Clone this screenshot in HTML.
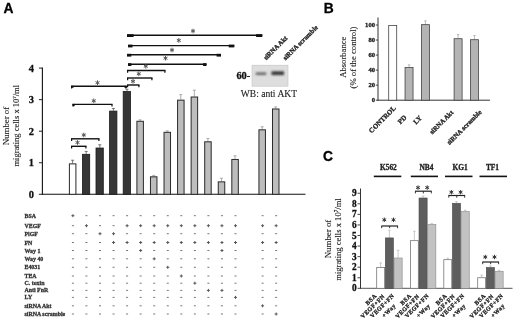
<!DOCTYPE html>
<html><head><meta charset="utf-8"><title>Figure</title>
<style>
html,body{margin:0;padding:0;background:#fff;}
body{width:520px;height:320px;overflow:hidden;font-family:"Liberation Serif",serif;}
svg{display:block;filter:blur(0.45px);}
</style></head><body>
<svg width="520" height="320" viewBox="0 0 520 320">
<rect x="0" y="0" width="520" height="320" fill="#ffffff"/>
<text x="3.6" y="12.7" font-family='"Liberation Sans", sans-serif' font-size="13.8" font-weight="bold" text-anchor="start" fill="#000" stroke="#000" stroke-width="0.3">A</text>
<text x="323.7" y="12.7" font-family='"Liberation Sans", sans-serif' font-size="13.8" font-weight="bold" text-anchor="start" fill="#000" stroke="#000" stroke-width="0.3">B</text>
<text x="323.0" y="160.6" font-family='"Liberation Sans", sans-serif' font-size="13.8" font-weight="bold" text-anchor="start" fill="#000" stroke="#000" stroke-width="0.3">C</text>
<line x1="42.40" y1="67.60" x2="42.40" y2="194.80" stroke="#111" stroke-width="1.1"/>
<line x1="41.90" y1="194.30" x2="305.50" y2="194.30" stroke="#111" stroke-width="1.1"/>
<line x1="38.90" y1="194.30" x2="42.40" y2="194.30" stroke="#222" stroke-width="1"/>
<text x="34.0" y="197.70000000000002" font-family='"Liberation Serif", serif' font-size="10.4" font-weight="bold" text-anchor="end" fill="#111" stroke="#111" stroke-width="0.3">0</text>
<line x1="38.90" y1="162.75" x2="42.40" y2="162.75" stroke="#222" stroke-width="1"/>
<text x="34.0" y="166.15" font-family='"Liberation Serif", serif' font-size="10.4" font-weight="bold" text-anchor="end" fill="#111" stroke="#111" stroke-width="0.3">1</text>
<line x1="38.90" y1="131.20" x2="42.40" y2="131.20" stroke="#222" stroke-width="1"/>
<text x="34.0" y="134.60000000000002" font-family='"Liberation Serif", serif' font-size="10.4" font-weight="bold" text-anchor="end" fill="#111" stroke="#111" stroke-width="0.3">2</text>
<line x1="38.90" y1="99.65" x2="42.40" y2="99.65" stroke="#222" stroke-width="1"/>
<text x="34.0" y="103.05000000000001" font-family='"Liberation Serif", serif' font-size="10.4" font-weight="bold" text-anchor="end" fill="#111" stroke="#111" stroke-width="0.3">3</text>
<line x1="38.90" y1="68.10" x2="42.40" y2="68.10" stroke="#222" stroke-width="1"/>
<text x="34.0" y="71.50000000000001" font-family='"Liberation Serif", serif' font-size="10.4" font-weight="bold" text-anchor="end" fill="#111" stroke="#111" stroke-width="0.3">4</text>
<text x="9.0" y="126" font-family='"Liberation Serif", serif' font-size="8.8" font-weight="normal" text-anchor="middle" fill="#222" stroke="#222" stroke-width="0.12" transform="rotate(-90 9.0 126)">Number of</text>
<text x="19.0" y="125.7" font-family='"Liberation Serif", serif' font-size="8.5" font-weight="normal" text-anchor="middle" fill="#222" stroke="#222" stroke-width="0.12" transform="rotate(-90 19.0 125.7)">migrating cells x 10<tspan font-size="5" dy="-3">7</tspan><tspan dy="3">/ml</tspan></text>
<line x1="72.60" y1="163.38" x2="72.60" y2="160.23" stroke="#555" stroke-width="0.8"/>
<line x1="71.10" y1="160.23" x2="74.10" y2="160.23" stroke="#555" stroke-width="0.8"/>
<rect x="69.40" y="163.88" width="6.50" height="30.42" fill="#fff" stroke="#2a2a2a" stroke-width="1"/>
<line x1="86.20" y1="153.92" x2="86.20" y2="151.39" stroke="#555" stroke-width="0.8"/>
<line x1="84.70" y1="151.39" x2="87.70" y2="151.39" stroke="#555" stroke-width="0.8"/>
<rect x="82.40" y="154.32" width="7.30" height="39.98" fill="#363636" stroke="#1a1a1a" stroke-width="0.8"/>
<line x1="99.80" y1="147.61" x2="99.80" y2="144.77" stroke="#555" stroke-width="0.8"/>
<line x1="98.30" y1="144.77" x2="101.30" y2="144.77" stroke="#555" stroke-width="0.8"/>
<rect x="96.00" y="148.01" width="7.30" height="46.29" fill="#363636" stroke="#1a1a1a" stroke-width="0.8"/>
<line x1="113.40" y1="110.69" x2="113.40" y2="108.48" stroke="#555" stroke-width="0.8"/>
<line x1="111.90" y1="108.48" x2="114.90" y2="108.48" stroke="#555" stroke-width="0.8"/>
<rect x="109.60" y="111.09" width="7.30" height="83.21" fill="#363636" stroke="#1a1a1a" stroke-width="0.8"/>
<line x1="127.00" y1="91.13" x2="127.00" y2="89.24" stroke="#555" stroke-width="0.8"/>
<line x1="125.50" y1="89.24" x2="128.50" y2="89.24" stroke="#555" stroke-width="0.8"/>
<rect x="123.20" y="91.53" width="7.30" height="102.77" fill="#363636" stroke="#1a1a1a" stroke-width="0.8"/>
<line x1="140.10" y1="120.79" x2="140.10" y2="119.84" stroke="#999" stroke-width="0.8"/>
<line x1="138.60" y1="119.84" x2="141.60" y2="119.84" stroke="#999" stroke-width="0.8"/>
<rect x="136.90" y="121.29" width="6.50" height="73.01" fill="#bdbdbd" stroke="#2a2a2a" stroke-width="1"/>
<line x1="153.66" y1="176.32" x2="153.66" y2="175.37" stroke="#999" stroke-width="0.8"/>
<line x1="152.16" y1="175.37" x2="155.16" y2="175.37" stroke="#999" stroke-width="0.8"/>
<rect x="150.46" y="176.82" width="6.50" height="17.48" fill="#bdbdbd" stroke="#2a2a2a" stroke-width="1"/>
<line x1="167.22" y1="131.83" x2="167.22" y2="130.88" stroke="#999" stroke-width="0.8"/>
<line x1="165.72" y1="130.88" x2="168.72" y2="130.88" stroke="#999" stroke-width="0.8"/>
<rect x="164.02" y="132.33" width="6.50" height="61.97" fill="#bdbdbd" stroke="#2a2a2a" stroke-width="1"/>
<line x1="180.78" y1="99.65" x2="180.78" y2="94.60" stroke="#999" stroke-width="0.8"/>
<line x1="179.28" y1="94.60" x2="182.28" y2="94.60" stroke="#999" stroke-width="0.8"/>
<rect x="177.58" y="100.15" width="6.50" height="94.15" fill="#bdbdbd" stroke="#2a2a2a" stroke-width="1"/>
<line x1="194.34" y1="96.50" x2="194.34" y2="90.19" stroke="#999" stroke-width="0.8"/>
<line x1="192.84" y1="90.19" x2="195.84" y2="90.19" stroke="#999" stroke-width="0.8"/>
<rect x="191.14" y="97.00" width="6.50" height="97.31" fill="#bdbdbd" stroke="#2a2a2a" stroke-width="1"/>
<line x1="207.90" y1="141.30" x2="207.90" y2="138.46" stroke="#999" stroke-width="0.8"/>
<line x1="206.40" y1="138.46" x2="209.40" y2="138.46" stroke="#999" stroke-width="0.8"/>
<rect x="204.70" y="141.80" width="6.50" height="52.50" fill="#bdbdbd" stroke="#2a2a2a" stroke-width="1"/>
<line x1="221.46" y1="181.36" x2="221.46" y2="178.21" stroke="#999" stroke-width="0.8"/>
<line x1="219.96" y1="178.21" x2="222.96" y2="178.21" stroke="#999" stroke-width="0.8"/>
<rect x="218.26" y="181.86" width="6.50" height="12.44" fill="#bdbdbd" stroke="#2a2a2a" stroke-width="1"/>
<line x1="235.02" y1="158.96" x2="235.02" y2="155.81" stroke="#999" stroke-width="0.8"/>
<line x1="233.52" y1="155.81" x2="236.52" y2="155.81" stroke="#999" stroke-width="0.8"/>
<rect x="231.82" y="159.46" width="6.50" height="34.84" fill="#bdbdbd" stroke="#2a2a2a" stroke-width="1"/>
<line x1="262.14" y1="129.31" x2="262.14" y2="126.78" stroke="#999" stroke-width="0.8"/>
<line x1="260.64" y1="126.78" x2="263.64" y2="126.78" stroke="#999" stroke-width="0.8"/>
<rect x="258.94" y="129.81" width="6.50" height="64.49" fill="#bdbdbd" stroke="#2a2a2a" stroke-width="1"/>
<line x1="275.70" y1="108.48" x2="275.70" y2="106.91" stroke="#999" stroke-width="0.8"/>
<line x1="274.20" y1="106.91" x2="277.20" y2="106.91" stroke="#999" stroke-width="0.8"/>
<rect x="272.50" y="108.98" width="6.50" height="85.32" fill="#bdbdbd" stroke="#2a2a2a" stroke-width="1"/>
<line x1="71.00" y1="86.30" x2="126.50" y2="86.30" stroke="#111" stroke-width="1.4"/>
<line x1="71.60" y1="86.30" x2="71.60" y2="88.50" stroke="#111" stroke-width="1.2"/>
<line x1="125.90" y1="86.30" x2="125.90" y2="88.50" stroke="#111" stroke-width="1.2"/>
<rect x="71.00" y="85.80" width="2.50" height="2.00" fill="#111"/>
<rect x="124.50" y="85.80" width="2.50" height="2.00" fill="#111"/>
<line x1="97.50" y1="80.40" x2="97.50" y2="85.00" stroke="#555" stroke-width="1.0"/>
<line x1="95.51" y1="81.55" x2="99.49" y2="83.85" stroke="#555" stroke-width="1.0"/>
<line x1="99.49" y1="81.55" x2="95.51" y2="83.85" stroke="#555" stroke-width="1.0"/>
<line x1="72.50" y1="104.40" x2="112.60" y2="104.40" stroke="#111" stroke-width="1.4"/>
<line x1="73.10" y1="104.40" x2="73.10" y2="106.60" stroke="#111" stroke-width="1.2"/>
<line x1="112.00" y1="104.40" x2="112.00" y2="106.60" stroke="#111" stroke-width="1.2"/>
<rect x="72.50" y="103.90" width="2.20" height="2.20" fill="#111"/>
<line x1="93.80" y1="98.50" x2="93.80" y2="103.10" stroke="#555" stroke-width="1.0"/>
<line x1="91.81" y1="99.65" x2="95.79" y2="101.95" stroke="#555" stroke-width="1.0"/>
<line x1="95.79" y1="99.65" x2="91.81" y2="101.95" stroke="#555" stroke-width="1.0"/>
<line x1="71.00" y1="138.80" x2="99.50" y2="138.80" stroke="#111" stroke-width="1.4"/>
<line x1="71.60" y1="138.80" x2="71.60" y2="141.00" stroke="#111" stroke-width="1.2"/>
<line x1="98.90" y1="138.80" x2="98.90" y2="141.00" stroke="#111" stroke-width="1.2"/>
<line x1="83.80" y1="132.70" x2="83.80" y2="137.30" stroke="#555" stroke-width="1.0"/>
<line x1="81.81" y1="133.85" x2="85.79" y2="136.15" stroke="#555" stroke-width="1.0"/>
<line x1="85.79" y1="133.85" x2="81.81" y2="136.15" stroke="#555" stroke-width="1.0"/>
<line x1="71.00" y1="146.30" x2="86.50" y2="146.30" stroke="#111" stroke-width="1.4"/>
<line x1="71.60" y1="146.30" x2="71.60" y2="148.50" stroke="#111" stroke-width="1.2"/>
<line x1="85.90" y1="146.30" x2="85.90" y2="148.50" stroke="#111" stroke-width="1.2"/>
<line x1="77.50" y1="140.20" x2="77.50" y2="144.80" stroke="#555" stroke-width="1.0"/>
<line x1="75.51" y1="141.35" x2="79.49" y2="143.65" stroke="#555" stroke-width="1.0"/>
<line x1="79.49" y1="141.35" x2="75.51" y2="143.65" stroke="#555" stroke-width="1.0"/>
<line x1="127.00" y1="35.20" x2="262.30" y2="35.20" stroke="#111" stroke-width="1.4"/>
<rect x="127.00" y="34.20" width="6.60" height="2.80" fill="#111"/>
<rect x="256.10" y="34.20" width="6.20" height="2.80" fill="#111"/>
<line x1="193.00" y1="28.70" x2="193.00" y2="33.30" stroke="#555" stroke-width="1.0"/>
<line x1="191.01" y1="29.85" x2="194.99" y2="32.15" stroke="#555" stroke-width="1.0"/>
<line x1="194.99" y1="29.85" x2="191.01" y2="32.15" stroke="#555" stroke-width="1.0"/>
<line x1="128.00" y1="45.60" x2="234.30" y2="45.60" stroke="#111" stroke-width="1.4"/>
<rect x="128.00" y="44.60" width="4.50" height="2.80" fill="#111"/>
<rect x="228.70" y="44.60" width="5.60" height="2.80" fill="#111"/>
<line x1="178.80" y1="38.10" x2="178.80" y2="42.70" stroke="#555" stroke-width="1.0"/>
<line x1="176.81" y1="39.25" x2="180.79" y2="41.55" stroke="#555" stroke-width="1.0"/>
<line x1="180.79" y1="39.25" x2="176.81" y2="41.55" stroke="#555" stroke-width="1.0"/>
<line x1="127.00" y1="54.80" x2="221.00" y2="54.80" stroke="#111" stroke-width="1.4"/>
<rect x="127.00" y="53.80" width="4.30" height="2.80" fill="#111"/>
<rect x="216.60" y="53.80" width="4.40" height="2.80" fill="#111"/>
<line x1="172.00" y1="47.70" x2="172.00" y2="52.30" stroke="#555" stroke-width="1.0"/>
<line x1="170.01" y1="48.85" x2="173.99" y2="51.15" stroke="#555" stroke-width="1.0"/>
<line x1="173.99" y1="48.85" x2="170.01" y2="51.15" stroke="#555" stroke-width="1.0"/>
<line x1="128.00" y1="64.20" x2="206.50" y2="64.20" stroke="#111" stroke-width="1.4"/>
<rect x="128.00" y="63.20" width="3.40" height="2.80" fill="#111"/>
<rect x="203.10" y="63.20" width="3.40" height="2.80" fill="#111"/>
<line x1="165.50" y1="55.90" x2="165.50" y2="60.50" stroke="#555" stroke-width="1.0"/>
<line x1="163.51" y1="57.05" x2="167.49" y2="59.35" stroke="#555" stroke-width="1.0"/>
<line x1="167.49" y1="57.05" x2="163.51" y2="59.35" stroke="#555" stroke-width="1.0"/>
<line x1="127.00" y1="70.50" x2="165.50" y2="70.50" stroke="#111" stroke-width="1.4"/>
<line x1="127.60" y1="70.50" x2="127.60" y2="72.70" stroke="#111" stroke-width="1.2"/>
<line x1="164.90" y1="70.50" x2="164.90" y2="72.70" stroke="#111" stroke-width="1.2"/>
<line x1="145.80" y1="63.90" x2="145.80" y2="68.50" stroke="#555" stroke-width="1.0"/>
<line x1="143.81" y1="65.05" x2="147.79" y2="67.35" stroke="#555" stroke-width="1.0"/>
<line x1="147.79" y1="65.05" x2="143.81" y2="67.35" stroke="#555" stroke-width="1.0"/>
<line x1="127.00" y1="78.00" x2="152.50" y2="78.00" stroke="#111" stroke-width="1.4"/>
<line x1="127.60" y1="78.00" x2="127.60" y2="80.20" stroke="#111" stroke-width="1.2"/>
<line x1="151.90" y1="78.00" x2="151.90" y2="80.20" stroke="#111" stroke-width="1.2"/>
<line x1="138.80" y1="71.50" x2="138.80" y2="76.10" stroke="#555" stroke-width="1.0"/>
<line x1="136.81" y1="72.65" x2="140.79" y2="74.95" stroke="#555" stroke-width="1.0"/>
<line x1="140.79" y1="72.65" x2="136.81" y2="74.95" stroke="#555" stroke-width="1.0"/>
<line x1="127.00" y1="85.00" x2="139.50" y2="85.00" stroke="#111" stroke-width="1.4"/>
<line x1="127.60" y1="85.00" x2="127.60" y2="87.20" stroke="#111" stroke-width="1.2"/>
<line x1="138.90" y1="85.00" x2="138.90" y2="87.20" stroke="#111" stroke-width="1.2"/>
<line x1="133.00" y1="79.00" x2="133.00" y2="83.60" stroke="#555" stroke-width="1.0"/>
<line x1="131.01" y1="80.15" x2="134.99" y2="82.45" stroke="#555" stroke-width="1.0"/>
<line x1="134.99" y1="80.15" x2="131.01" y2="82.45" stroke="#555" stroke-width="1.0"/>
<defs><filter id="bl" x="-20%" y="-50%" width="140%" height="200%"><feGaussianBlur stdDeviation="1.1"/></filter></defs>
<rect x="252.00" y="65.20" width="36.00" height="21.00" fill="#dedede" stroke="#c4c4c4" stroke-width="0.6"/>
<g filter="url(#bl)">
<rect x="255.80" y="72.40" width="10.40" height="2.60" fill="#666"/>
<rect x="271.50" y="71.30" width="12.50" height="3.80" fill="#383838"/>
</g>
<text x="236.4" y="79.3" font-family='"Liberation Serif", serif' font-size="10.4" font-weight="bold" text-anchor="start" fill="#111" stroke="#111" stroke-width="0.3">60-</text>
<text x="240.8" y="97.4" font-family='"Liberation Serif", serif' font-size="10" font-weight="normal" text-anchor="start" fill="#222" stroke="#222" stroke-width="0.12" textLength="56.2" lengthAdjust="spacingAndGlyphs">WB: anti AKT</text>
<text x="266.2" y="60.3" font-family='"Liberation Serif", serif' font-size="6.7" font-weight="bold" text-anchor="start" fill="#222" stroke="#222" stroke-width="0.3" transform="rotate(-45 266.2 60.3)">siRNA Akt</text>
<text x="285.6" y="60.6" font-family='"Liberation Serif", serif' font-size="6.7" font-weight="bold" text-anchor="start" fill="#222" stroke="#222" stroke-width="0.3" transform="rotate(-45 285.6 60.6)">siRNA scramble</text>
<text x="24.5" y="217.7" font-family='"Liberation Serif", serif' font-size="5.9" font-weight="bold" text-anchor="start" fill="#333" stroke="#333" stroke-width="0.3">BSA</text>
<line x1="71.40" y1="215.70" x2="74.40" y2="215.70" stroke="#555" stroke-width="1.0"/>
<line x1="72.90" y1="214.20" x2="72.90" y2="217.20" stroke="#555" stroke-width="1.0"/>
<line x1="85.45" y1="215.70" x2="87.45" y2="215.70" stroke="#777" stroke-width="1.0"/>
<line x1="99.00" y1="215.70" x2="101.00" y2="215.70" stroke="#777" stroke-width="1.0"/>
<line x1="112.55" y1="215.70" x2="114.55" y2="215.70" stroke="#777" stroke-width="1.0"/>
<line x1="126.10" y1="215.70" x2="128.10" y2="215.70" stroke="#777" stroke-width="1.0"/>
<line x1="139.65" y1="215.70" x2="141.65" y2="215.70" stroke="#777" stroke-width="1.0"/>
<line x1="153.20" y1="215.70" x2="155.20" y2="215.70" stroke="#777" stroke-width="1.0"/>
<line x1="166.75" y1="215.70" x2="168.75" y2="215.70" stroke="#777" stroke-width="1.0"/>
<line x1="180.30" y1="215.70" x2="182.30" y2="215.70" stroke="#777" stroke-width="1.0"/>
<line x1="193.85" y1="215.70" x2="195.85" y2="215.70" stroke="#777" stroke-width="1.0"/>
<line x1="207.40" y1="215.70" x2="209.40" y2="215.70" stroke="#777" stroke-width="1.0"/>
<line x1="220.95" y1="215.70" x2="222.95" y2="215.70" stroke="#777" stroke-width="1.0"/>
<line x1="234.50" y1="215.70" x2="236.50" y2="215.70" stroke="#777" stroke-width="1.0"/>
<line x1="261.60" y1="215.70" x2="263.60" y2="215.70" stroke="#777" stroke-width="1.0"/>
<line x1="275.15" y1="215.70" x2="277.15" y2="215.70" stroke="#777" stroke-width="1.0"/>
<text x="24.5" y="227.7" font-family='"Liberation Serif", serif' font-size="5.9" font-weight="bold" text-anchor="start" fill="#333" stroke="#333" stroke-width="0.3">VEGF</text>
<line x1="71.90" y1="225.70" x2="73.90" y2="225.70" stroke="#777" stroke-width="1.0"/>
<line x1="84.95" y1="225.70" x2="87.95" y2="225.70" stroke="#555" stroke-width="1.0"/>
<line x1="86.45" y1="224.20" x2="86.45" y2="227.20" stroke="#555" stroke-width="1.0"/>
<line x1="99.00" y1="225.70" x2="101.00" y2="225.70" stroke="#777" stroke-width="1.0"/>
<line x1="112.55" y1="225.70" x2="114.55" y2="225.70" stroke="#777" stroke-width="1.0"/>
<line x1="125.60" y1="225.70" x2="128.60" y2="225.70" stroke="#555" stroke-width="1.0"/>
<line x1="127.10" y1="224.20" x2="127.10" y2="227.20" stroke="#555" stroke-width="1.0"/>
<line x1="139.15" y1="225.70" x2="142.15" y2="225.70" stroke="#555" stroke-width="1.0"/>
<line x1="140.65" y1="224.20" x2="140.65" y2="227.20" stroke="#555" stroke-width="1.0"/>
<line x1="152.70" y1="225.70" x2="155.70" y2="225.70" stroke="#555" stroke-width="1.0"/>
<line x1="154.20" y1="224.20" x2="154.20" y2="227.20" stroke="#555" stroke-width="1.0"/>
<line x1="166.25" y1="225.70" x2="169.25" y2="225.70" stroke="#555" stroke-width="1.0"/>
<line x1="167.75" y1="224.20" x2="167.75" y2="227.20" stroke="#555" stroke-width="1.0"/>
<line x1="179.80" y1="225.70" x2="182.80" y2="225.70" stroke="#555" stroke-width="1.0"/>
<line x1="181.30" y1="224.20" x2="181.30" y2="227.20" stroke="#555" stroke-width="1.0"/>
<line x1="193.35" y1="225.70" x2="196.35" y2="225.70" stroke="#555" stroke-width="1.0"/>
<line x1="194.85" y1="224.20" x2="194.85" y2="227.20" stroke="#555" stroke-width="1.0"/>
<line x1="206.90" y1="225.70" x2="209.90" y2="225.70" stroke="#555" stroke-width="1.0"/>
<line x1="208.40" y1="224.20" x2="208.40" y2="227.20" stroke="#555" stroke-width="1.0"/>
<line x1="220.45" y1="225.70" x2="223.45" y2="225.70" stroke="#555" stroke-width="1.0"/>
<line x1="221.95" y1="224.20" x2="221.95" y2="227.20" stroke="#555" stroke-width="1.0"/>
<line x1="234.00" y1="225.70" x2="237.00" y2="225.70" stroke="#555" stroke-width="1.0"/>
<line x1="235.50" y1="224.20" x2="235.50" y2="227.20" stroke="#555" stroke-width="1.0"/>
<line x1="261.10" y1="225.70" x2="264.10" y2="225.70" stroke="#555" stroke-width="1.0"/>
<line x1="262.60" y1="224.20" x2="262.60" y2="227.20" stroke="#555" stroke-width="1.0"/>
<line x1="274.65" y1="225.70" x2="277.65" y2="225.70" stroke="#555" stroke-width="1.0"/>
<line x1="276.15" y1="224.20" x2="276.15" y2="227.20" stroke="#555" stroke-width="1.0"/>
<text x="24.5" y="235.7" font-family='"Liberation Serif", serif' font-size="5.9" font-weight="bold" text-anchor="start" fill="#333" stroke="#333" stroke-width="0.3">PlGF</text>
<line x1="71.90" y1="233.70" x2="73.90" y2="233.70" stroke="#777" stroke-width="1.0"/>
<line x1="85.45" y1="233.70" x2="87.45" y2="233.70" stroke="#777" stroke-width="1.0"/>
<line x1="98.50" y1="233.70" x2="101.50" y2="233.70" stroke="#555" stroke-width="1.0"/>
<line x1="100.00" y1="232.20" x2="100.00" y2="235.20" stroke="#555" stroke-width="1.0"/>
<line x1="112.05" y1="233.70" x2="115.05" y2="233.70" stroke="#555" stroke-width="1.0"/>
<line x1="113.55" y1="232.20" x2="113.55" y2="235.20" stroke="#555" stroke-width="1.0"/>
<line x1="126.10" y1="233.70" x2="128.10" y2="233.70" stroke="#777" stroke-width="1.0"/>
<line x1="139.65" y1="233.70" x2="141.65" y2="233.70" stroke="#777" stroke-width="1.0"/>
<line x1="153.20" y1="233.70" x2="155.20" y2="233.70" stroke="#777" stroke-width="1.0"/>
<line x1="166.75" y1="233.70" x2="168.75" y2="233.70" stroke="#777" stroke-width="1.0"/>
<line x1="180.30" y1="233.70" x2="182.30" y2="233.70" stroke="#777" stroke-width="1.0"/>
<line x1="193.85" y1="233.70" x2="195.85" y2="233.70" stroke="#777" stroke-width="1.0"/>
<line x1="207.40" y1="233.70" x2="209.40" y2="233.70" stroke="#777" stroke-width="1.0"/>
<line x1="220.95" y1="233.70" x2="222.95" y2="233.70" stroke="#777" stroke-width="1.0"/>
<line x1="234.50" y1="233.70" x2="236.50" y2="233.70" stroke="#777" stroke-width="1.0"/>
<line x1="261.60" y1="233.70" x2="263.60" y2="233.70" stroke="#777" stroke-width="1.0"/>
<line x1="275.15" y1="233.70" x2="277.15" y2="233.70" stroke="#777" stroke-width="1.0"/>
<text x="24.5" y="244.5" font-family='"Liberation Serif", serif' font-size="5.9" font-weight="bold" text-anchor="start" fill="#333" stroke="#333" stroke-width="0.3">FN</text>
<line x1="71.90" y1="242.50" x2="73.90" y2="242.50" stroke="#777" stroke-width="1.0"/>
<line x1="85.45" y1="242.50" x2="87.45" y2="242.50" stroke="#777" stroke-width="1.0"/>
<line x1="99.00" y1="242.50" x2="101.00" y2="242.50" stroke="#777" stroke-width="1.0"/>
<line x1="112.05" y1="242.50" x2="115.05" y2="242.50" stroke="#555" stroke-width="1.0"/>
<line x1="113.55" y1="241.00" x2="113.55" y2="244.00" stroke="#555" stroke-width="1.0"/>
<line x1="125.60" y1="242.50" x2="128.60" y2="242.50" stroke="#555" stroke-width="1.0"/>
<line x1="127.10" y1="241.00" x2="127.10" y2="244.00" stroke="#555" stroke-width="1.0"/>
<line x1="139.15" y1="242.50" x2="142.15" y2="242.50" stroke="#555" stroke-width="1.0"/>
<line x1="140.65" y1="241.00" x2="140.65" y2="244.00" stroke="#555" stroke-width="1.0"/>
<line x1="152.70" y1="242.50" x2="155.70" y2="242.50" stroke="#555" stroke-width="1.0"/>
<line x1="154.20" y1="241.00" x2="154.20" y2="244.00" stroke="#555" stroke-width="1.0"/>
<line x1="166.25" y1="242.50" x2="169.25" y2="242.50" stroke="#555" stroke-width="1.0"/>
<line x1="167.75" y1="241.00" x2="167.75" y2="244.00" stroke="#555" stroke-width="1.0"/>
<line x1="179.80" y1="242.50" x2="182.80" y2="242.50" stroke="#555" stroke-width="1.0"/>
<line x1="181.30" y1="241.00" x2="181.30" y2="244.00" stroke="#555" stroke-width="1.0"/>
<line x1="193.35" y1="242.50" x2="196.35" y2="242.50" stroke="#555" stroke-width="1.0"/>
<line x1="194.85" y1="241.00" x2="194.85" y2="244.00" stroke="#555" stroke-width="1.0"/>
<line x1="206.90" y1="242.50" x2="209.90" y2="242.50" stroke="#555" stroke-width="1.0"/>
<line x1="208.40" y1="241.00" x2="208.40" y2="244.00" stroke="#555" stroke-width="1.0"/>
<line x1="220.45" y1="242.50" x2="223.45" y2="242.50" stroke="#555" stroke-width="1.0"/>
<line x1="221.95" y1="241.00" x2="221.95" y2="244.00" stroke="#555" stroke-width="1.0"/>
<line x1="234.00" y1="242.50" x2="237.00" y2="242.50" stroke="#555" stroke-width="1.0"/>
<line x1="235.50" y1="241.00" x2="235.50" y2="244.00" stroke="#555" stroke-width="1.0"/>
<line x1="261.10" y1="242.50" x2="264.10" y2="242.50" stroke="#555" stroke-width="1.0"/>
<line x1="262.60" y1="241.00" x2="262.60" y2="244.00" stroke="#555" stroke-width="1.0"/>
<line x1="274.65" y1="242.50" x2="277.65" y2="242.50" stroke="#555" stroke-width="1.0"/>
<line x1="276.15" y1="241.00" x2="276.15" y2="244.00" stroke="#555" stroke-width="1.0"/>
<text x="24.5" y="252.5" font-family='"Liberation Serif", serif' font-size="5.9" font-weight="bold" text-anchor="start" fill="#333" stroke="#333" stroke-width="0.3">Way 1</text>
<line x1="71.90" y1="250.50" x2="73.90" y2="250.50" stroke="#777" stroke-width="1.0"/>
<line x1="85.45" y1="250.50" x2="87.45" y2="250.50" stroke="#777" stroke-width="1.0"/>
<line x1="99.00" y1="250.50" x2="101.00" y2="250.50" stroke="#777" stroke-width="1.0"/>
<line x1="112.55" y1="250.50" x2="114.55" y2="250.50" stroke="#777" stroke-width="1.0"/>
<line x1="126.10" y1="250.50" x2="128.10" y2="250.50" stroke="#777" stroke-width="1.0"/>
<line x1="139.15" y1="250.50" x2="142.15" y2="250.50" stroke="#555" stroke-width="1.0"/>
<line x1="140.65" y1="249.00" x2="140.65" y2="252.00" stroke="#555" stroke-width="1.0"/>
<line x1="153.20" y1="250.50" x2="155.20" y2="250.50" stroke="#777" stroke-width="1.0"/>
<line x1="166.75" y1="250.50" x2="168.75" y2="250.50" stroke="#777" stroke-width="1.0"/>
<line x1="180.30" y1="250.50" x2="182.30" y2="250.50" stroke="#777" stroke-width="1.0"/>
<line x1="193.85" y1="250.50" x2="195.85" y2="250.50" stroke="#777" stroke-width="1.0"/>
<line x1="207.40" y1="250.50" x2="209.40" y2="250.50" stroke="#777" stroke-width="1.0"/>
<line x1="220.45" y1="250.50" x2="223.45" y2="250.50" stroke="#555" stroke-width="1.0"/>
<line x1="221.95" y1="249.00" x2="221.95" y2="252.00" stroke="#555" stroke-width="1.0"/>
<line x1="234.50" y1="250.50" x2="236.50" y2="250.50" stroke="#777" stroke-width="1.0"/>
<line x1="261.60" y1="250.50" x2="263.60" y2="250.50" stroke="#777" stroke-width="1.0"/>
<line x1="275.15" y1="250.50" x2="277.15" y2="250.50" stroke="#777" stroke-width="1.0"/>
<text x="24.5" y="260.8" font-family='"Liberation Serif", serif' font-size="5.9" font-weight="bold" text-anchor="start" fill="#333" stroke="#333" stroke-width="0.3">Way 40</text>
<line x1="71.90" y1="258.80" x2="73.90" y2="258.80" stroke="#777" stroke-width="1.0"/>
<line x1="85.45" y1="258.80" x2="87.45" y2="258.80" stroke="#777" stroke-width="1.0"/>
<line x1="99.00" y1="258.80" x2="101.00" y2="258.80" stroke="#777" stroke-width="1.0"/>
<line x1="112.55" y1="258.80" x2="114.55" y2="258.80" stroke="#777" stroke-width="1.0"/>
<line x1="126.10" y1="258.80" x2="128.10" y2="258.80" stroke="#777" stroke-width="1.0"/>
<line x1="139.65" y1="258.80" x2="141.65" y2="258.80" stroke="#777" stroke-width="1.0"/>
<line x1="152.70" y1="258.80" x2="155.70" y2="258.80" stroke="#555" stroke-width="1.0"/>
<line x1="154.20" y1="257.30" x2="154.20" y2="260.30" stroke="#555" stroke-width="1.0"/>
<line x1="166.75" y1="258.80" x2="168.75" y2="258.80" stroke="#777" stroke-width="1.0"/>
<line x1="180.30" y1="258.80" x2="182.30" y2="258.80" stroke="#777" stroke-width="1.0"/>
<line x1="193.85" y1="258.80" x2="195.85" y2="258.80" stroke="#777" stroke-width="1.0"/>
<line x1="207.40" y1="258.80" x2="209.40" y2="258.80" stroke="#777" stroke-width="1.0"/>
<line x1="220.95" y1="258.80" x2="222.95" y2="258.80" stroke="#777" stroke-width="1.0"/>
<line x1="234.50" y1="258.80" x2="236.50" y2="258.80" stroke="#777" stroke-width="1.0"/>
<line x1="261.60" y1="258.80" x2="263.60" y2="258.80" stroke="#777" stroke-width="1.0"/>
<line x1="275.15" y1="258.80" x2="277.15" y2="258.80" stroke="#777" stroke-width="1.0"/>
<text x="24.5" y="269.3" font-family='"Liberation Serif", serif' font-size="5.9" font-weight="bold" text-anchor="start" fill="#333" stroke="#333" stroke-width="0.3">E4031</text>
<line x1="71.90" y1="267.30" x2="73.90" y2="267.30" stroke="#777" stroke-width="1.0"/>
<line x1="85.45" y1="267.30" x2="87.45" y2="267.30" stroke="#777" stroke-width="1.0"/>
<line x1="99.00" y1="267.30" x2="101.00" y2="267.30" stroke="#777" stroke-width="1.0"/>
<line x1="112.55" y1="267.30" x2="114.55" y2="267.30" stroke="#777" stroke-width="1.0"/>
<line x1="126.10" y1="267.30" x2="128.10" y2="267.30" stroke="#777" stroke-width="1.0"/>
<line x1="139.65" y1="267.30" x2="141.65" y2="267.30" stroke="#777" stroke-width="1.0"/>
<line x1="153.20" y1="267.30" x2="155.20" y2="267.30" stroke="#777" stroke-width="1.0"/>
<line x1="166.25" y1="267.30" x2="169.25" y2="267.30" stroke="#555" stroke-width="1.0"/>
<line x1="167.75" y1="265.80" x2="167.75" y2="268.80" stroke="#555" stroke-width="1.0"/>
<line x1="180.30" y1="267.30" x2="182.30" y2="267.30" stroke="#777" stroke-width="1.0"/>
<line x1="193.85" y1="267.30" x2="195.85" y2="267.30" stroke="#777" stroke-width="1.0"/>
<line x1="207.40" y1="267.30" x2="209.40" y2="267.30" stroke="#777" stroke-width="1.0"/>
<line x1="220.95" y1="267.30" x2="222.95" y2="267.30" stroke="#777" stroke-width="1.0"/>
<line x1="234.50" y1="267.30" x2="236.50" y2="267.30" stroke="#777" stroke-width="1.0"/>
<line x1="261.60" y1="267.30" x2="263.60" y2="267.30" stroke="#777" stroke-width="1.0"/>
<line x1="275.15" y1="267.30" x2="277.15" y2="267.30" stroke="#777" stroke-width="1.0"/>
<text x="24.5" y="278.0" font-family='"Liberation Serif", serif' font-size="5.9" font-weight="bold" text-anchor="start" fill="#333" stroke="#333" stroke-width="0.3">TEA</text>
<line x1="71.90" y1="276.00" x2="73.90" y2="276.00" stroke="#777" stroke-width="1.0"/>
<line x1="85.45" y1="276.00" x2="87.45" y2="276.00" stroke="#777" stroke-width="1.0"/>
<line x1="99.00" y1="276.00" x2="101.00" y2="276.00" stroke="#777" stroke-width="1.0"/>
<line x1="112.55" y1="276.00" x2="114.55" y2="276.00" stroke="#777" stroke-width="1.0"/>
<line x1="126.10" y1="276.00" x2="128.10" y2="276.00" stroke="#777" stroke-width="1.0"/>
<line x1="139.65" y1="276.00" x2="141.65" y2="276.00" stroke="#777" stroke-width="1.0"/>
<line x1="153.20" y1="276.00" x2="155.20" y2="276.00" stroke="#777" stroke-width="1.0"/>
<line x1="166.75" y1="276.00" x2="168.75" y2="276.00" stroke="#777" stroke-width="1.0"/>
<line x1="179.80" y1="276.00" x2="182.80" y2="276.00" stroke="#555" stroke-width="1.0"/>
<line x1="181.30" y1="274.50" x2="181.30" y2="277.50" stroke="#555" stroke-width="1.0"/>
<line x1="193.85" y1="276.00" x2="195.85" y2="276.00" stroke="#777" stroke-width="1.0"/>
<line x1="207.40" y1="276.00" x2="209.40" y2="276.00" stroke="#777" stroke-width="1.0"/>
<line x1="220.95" y1="276.00" x2="222.95" y2="276.00" stroke="#777" stroke-width="1.0"/>
<line x1="234.50" y1="276.00" x2="236.50" y2="276.00" stroke="#777" stroke-width="1.0"/>
<line x1="261.60" y1="276.00" x2="263.60" y2="276.00" stroke="#777" stroke-width="1.0"/>
<line x1="275.15" y1="276.00" x2="277.15" y2="276.00" stroke="#777" stroke-width="1.0"/>
<text x="24.5" y="285.2" font-family='"Liberation Serif", serif' font-size="5.9" font-weight="bold" text-anchor="start" fill="#333" stroke="#333" stroke-width="0.3">C. toxin</text>
<line x1="71.90" y1="283.20" x2="73.90" y2="283.20" stroke="#777" stroke-width="1.0"/>
<line x1="85.45" y1="283.20" x2="87.45" y2="283.20" stroke="#777" stroke-width="1.0"/>
<line x1="99.00" y1="283.20" x2="101.00" y2="283.20" stroke="#777" stroke-width="1.0"/>
<line x1="112.55" y1="283.20" x2="114.55" y2="283.20" stroke="#777" stroke-width="1.0"/>
<line x1="126.10" y1="283.20" x2="128.10" y2="283.20" stroke="#777" stroke-width="1.0"/>
<line x1="139.65" y1="283.20" x2="141.65" y2="283.20" stroke="#777" stroke-width="1.0"/>
<line x1="153.20" y1="283.20" x2="155.20" y2="283.20" stroke="#777" stroke-width="1.0"/>
<line x1="166.75" y1="283.20" x2="168.75" y2="283.20" stroke="#777" stroke-width="1.0"/>
<line x1="180.30" y1="283.20" x2="182.30" y2="283.20" stroke="#777" stroke-width="1.0"/>
<line x1="193.35" y1="283.20" x2="196.35" y2="283.20" stroke="#555" stroke-width="1.0"/>
<line x1="194.85" y1="281.70" x2="194.85" y2="284.70" stroke="#555" stroke-width="1.0"/>
<line x1="207.40" y1="283.20" x2="209.40" y2="283.20" stroke="#777" stroke-width="1.0"/>
<line x1="220.95" y1="283.20" x2="222.95" y2="283.20" stroke="#777" stroke-width="1.0"/>
<line x1="234.50" y1="283.20" x2="236.50" y2="283.20" stroke="#777" stroke-width="1.0"/>
<line x1="261.60" y1="283.20" x2="263.60" y2="283.20" stroke="#777" stroke-width="1.0"/>
<line x1="275.15" y1="283.20" x2="277.15" y2="283.20" stroke="#777" stroke-width="1.0"/>
<text x="24.5" y="292.4" font-family='"Liberation Serif", serif' font-size="5.9" font-weight="bold" text-anchor="start" fill="#333" stroke="#333" stroke-width="0.3">Anti FnR</text>
<line x1="71.90" y1="290.40" x2="73.90" y2="290.40" stroke="#777" stroke-width="1.0"/>
<line x1="85.45" y1="290.40" x2="87.45" y2="290.40" stroke="#777" stroke-width="1.0"/>
<line x1="99.00" y1="290.40" x2="101.00" y2="290.40" stroke="#777" stroke-width="1.0"/>
<line x1="112.55" y1="290.40" x2="114.55" y2="290.40" stroke="#777" stroke-width="1.0"/>
<line x1="126.10" y1="290.40" x2="128.10" y2="290.40" stroke="#777" stroke-width="1.0"/>
<line x1="139.65" y1="290.40" x2="141.65" y2="290.40" stroke="#777" stroke-width="1.0"/>
<line x1="153.20" y1="290.40" x2="155.20" y2="290.40" stroke="#777" stroke-width="1.0"/>
<line x1="166.75" y1="290.40" x2="168.75" y2="290.40" stroke="#777" stroke-width="1.0"/>
<line x1="180.30" y1="290.40" x2="182.30" y2="290.40" stroke="#777" stroke-width="1.0"/>
<line x1="193.85" y1="290.40" x2="195.85" y2="290.40" stroke="#777" stroke-width="1.0"/>
<line x1="206.90" y1="290.40" x2="209.90" y2="290.40" stroke="#555" stroke-width="1.0"/>
<line x1="208.40" y1="288.90" x2="208.40" y2="291.90" stroke="#555" stroke-width="1.0"/>
<line x1="220.45" y1="290.40" x2="223.45" y2="290.40" stroke="#555" stroke-width="1.0"/>
<line x1="221.95" y1="288.90" x2="221.95" y2="291.90" stroke="#555" stroke-width="1.0"/>
<line x1="234.50" y1="290.40" x2="236.50" y2="290.40" stroke="#777" stroke-width="1.0"/>
<line x1="261.60" y1="290.40" x2="263.60" y2="290.40" stroke="#777" stroke-width="1.0"/>
<line x1="275.15" y1="290.40" x2="277.15" y2="290.40" stroke="#777" stroke-width="1.0"/>
<text x="24.5" y="299.4" font-family='"Liberation Serif", serif' font-size="5.9" font-weight="bold" text-anchor="start" fill="#333" stroke="#333" stroke-width="0.3">LY</text>
<line x1="71.90" y1="297.40" x2="73.90" y2="297.40" stroke="#777" stroke-width="1.0"/>
<line x1="85.45" y1="297.40" x2="87.45" y2="297.40" stroke="#777" stroke-width="1.0"/>
<line x1="99.00" y1="297.40" x2="101.00" y2="297.40" stroke="#777" stroke-width="1.0"/>
<line x1="112.55" y1="297.40" x2="114.55" y2="297.40" stroke="#777" stroke-width="1.0"/>
<line x1="126.10" y1="297.40" x2="128.10" y2="297.40" stroke="#777" stroke-width="1.0"/>
<line x1="139.65" y1="297.40" x2="141.65" y2="297.40" stroke="#777" stroke-width="1.0"/>
<line x1="153.20" y1="297.40" x2="155.20" y2="297.40" stroke="#777" stroke-width="1.0"/>
<line x1="166.75" y1="297.40" x2="168.75" y2="297.40" stroke="#777" stroke-width="1.0"/>
<line x1="180.30" y1="297.40" x2="182.30" y2="297.40" stroke="#777" stroke-width="1.0"/>
<line x1="193.85" y1="297.40" x2="195.85" y2="297.40" stroke="#777" stroke-width="1.0"/>
<line x1="207.40" y1="297.40" x2="209.40" y2="297.40" stroke="#777" stroke-width="1.0"/>
<line x1="220.95" y1="297.40" x2="222.95" y2="297.40" stroke="#777" stroke-width="1.0"/>
<line x1="234.00" y1="297.40" x2="237.00" y2="297.40" stroke="#555" stroke-width="1.0"/>
<line x1="235.50" y1="295.90" x2="235.50" y2="298.90" stroke="#555" stroke-width="1.0"/>
<line x1="261.60" y1="297.40" x2="263.60" y2="297.40" stroke="#777" stroke-width="1.0"/>
<line x1="275.15" y1="297.40" x2="277.15" y2="297.40" stroke="#777" stroke-width="1.0"/>
<text x="24.5" y="307.8" font-family='"Liberation Serif", serif' font-size="5.9" font-weight="bold" text-anchor="start" fill="#333" stroke="#333" stroke-width="0.3">siRNA Akt</text>
<line x1="71.90" y1="305.80" x2="73.90" y2="305.80" stroke="#777" stroke-width="1.0"/>
<line x1="85.45" y1="305.80" x2="87.45" y2="305.80" stroke="#777" stroke-width="1.0"/>
<line x1="99.00" y1="305.80" x2="101.00" y2="305.80" stroke="#777" stroke-width="1.0"/>
<line x1="112.55" y1="305.80" x2="114.55" y2="305.80" stroke="#777" stroke-width="1.0"/>
<line x1="126.10" y1="305.80" x2="128.10" y2="305.80" stroke="#777" stroke-width="1.0"/>
<line x1="139.65" y1="305.80" x2="141.65" y2="305.80" stroke="#777" stroke-width="1.0"/>
<line x1="153.20" y1="305.80" x2="155.20" y2="305.80" stroke="#777" stroke-width="1.0"/>
<line x1="166.75" y1="305.80" x2="168.75" y2="305.80" stroke="#777" stroke-width="1.0"/>
<line x1="180.30" y1="305.80" x2="182.30" y2="305.80" stroke="#777" stroke-width="1.0"/>
<line x1="193.85" y1="305.80" x2="195.85" y2="305.80" stroke="#777" stroke-width="1.0"/>
<line x1="207.40" y1="305.80" x2="209.40" y2="305.80" stroke="#777" stroke-width="1.0"/>
<line x1="220.95" y1="305.80" x2="222.95" y2="305.80" stroke="#777" stroke-width="1.0"/>
<line x1="234.50" y1="305.80" x2="236.50" y2="305.80" stroke="#777" stroke-width="1.0"/>
<line x1="261.10" y1="305.80" x2="264.10" y2="305.80" stroke="#555" stroke-width="1.0"/>
<line x1="262.60" y1="304.30" x2="262.60" y2="307.30" stroke="#555" stroke-width="1.0"/>
<line x1="275.15" y1="305.80" x2="277.15" y2="305.80" stroke="#777" stroke-width="1.0"/>
<text x="24.5" y="316.0" font-family='"Liberation Serif", serif' font-size="5.9" font-weight="bold" text-anchor="start" fill="#333" stroke="#333" stroke-width="0.3">siRNA scramble</text>
<line x1="71.90" y1="314.00" x2="73.90" y2="314.00" stroke="#777" stroke-width="1.0"/>
<line x1="85.45" y1="314.00" x2="87.45" y2="314.00" stroke="#777" stroke-width="1.0"/>
<line x1="99.00" y1="314.00" x2="101.00" y2="314.00" stroke="#777" stroke-width="1.0"/>
<line x1="112.55" y1="314.00" x2="114.55" y2="314.00" stroke="#777" stroke-width="1.0"/>
<line x1="126.10" y1="314.00" x2="128.10" y2="314.00" stroke="#777" stroke-width="1.0"/>
<line x1="139.65" y1="314.00" x2="141.65" y2="314.00" stroke="#777" stroke-width="1.0"/>
<line x1="153.20" y1="314.00" x2="155.20" y2="314.00" stroke="#777" stroke-width="1.0"/>
<line x1="166.75" y1="314.00" x2="168.75" y2="314.00" stroke="#777" stroke-width="1.0"/>
<line x1="180.30" y1="314.00" x2="182.30" y2="314.00" stroke="#777" stroke-width="1.0"/>
<line x1="193.85" y1="314.00" x2="195.85" y2="314.00" stroke="#777" stroke-width="1.0"/>
<line x1="207.40" y1="314.00" x2="209.40" y2="314.00" stroke="#777" stroke-width="1.0"/>
<line x1="220.95" y1="314.00" x2="222.95" y2="314.00" stroke="#777" stroke-width="1.0"/>
<line x1="234.50" y1="314.00" x2="236.50" y2="314.00" stroke="#777" stroke-width="1.0"/>
<line x1="261.60" y1="314.00" x2="263.60" y2="314.00" stroke="#777" stroke-width="1.0"/>
<line x1="274.65" y1="314.00" x2="277.65" y2="314.00" stroke="#555" stroke-width="1.0"/>
<line x1="276.15" y1="312.50" x2="276.15" y2="315.50" stroke="#555" stroke-width="1.0"/>
<line x1="378.00" y1="17.50" x2="378.00" y2="100.70" stroke="#333" stroke-width="1"/>
<line x1="377.50" y1="100.20" x2="490.00" y2="100.20" stroke="#333" stroke-width="1"/>
<line x1="375.80" y1="100.20" x2="378.00" y2="100.20" stroke="#333" stroke-width="0.9"/>
<text x="375.0" y="102.4" font-family='"Liberation Serif", serif' font-size="6.6" font-weight="bold" text-anchor="end" fill="#222" stroke="#222" stroke-width="0.3">0</text>
<line x1="375.80" y1="85.16" x2="378.00" y2="85.16" stroke="#333" stroke-width="0.9"/>
<text x="375.0" y="87.36" font-family='"Liberation Serif", serif' font-size="6.6" font-weight="bold" text-anchor="end" fill="#222" stroke="#222" stroke-width="0.3">20</text>
<line x1="375.80" y1="70.12" x2="378.00" y2="70.12" stroke="#333" stroke-width="0.9"/>
<text x="375.0" y="72.32000000000001" font-family='"Liberation Serif", serif' font-size="6.6" font-weight="bold" text-anchor="end" fill="#222" stroke="#222" stroke-width="0.3">40</text>
<line x1="375.80" y1="55.08" x2="378.00" y2="55.08" stroke="#333" stroke-width="0.9"/>
<text x="375.0" y="57.28000000000001" font-family='"Liberation Serif", serif' font-size="6.6" font-weight="bold" text-anchor="end" fill="#222" stroke="#222" stroke-width="0.3">60</text>
<line x1="375.80" y1="40.04" x2="378.00" y2="40.04" stroke="#333" stroke-width="0.9"/>
<text x="375.0" y="42.24000000000001" font-family='"Liberation Serif", serif' font-size="6.6" font-weight="bold" text-anchor="end" fill="#222" stroke="#222" stroke-width="0.3">80</text>
<line x1="375.80" y1="25.00" x2="378.00" y2="25.00" stroke="#333" stroke-width="0.9"/>
<text x="375.0" y="27.2" font-family='"Liberation Serif", serif' font-size="6.6" font-weight="bold" text-anchor="end" fill="#222" stroke="#222" stroke-width="0.3">100</text>
<text x="346.4" y="57.2" font-family='"Liberation Serif", serif' font-size="8.6" font-weight="normal" text-anchor="middle" fill="#222" stroke="#222" stroke-width="0.12" transform="rotate(-90 346.4 57.2)">Absorbance</text>
<text x="355.9" y="57.5" font-family='"Liberation Serif", serif' font-size="8.7" font-weight="normal" text-anchor="middle" fill="#222" stroke="#222" stroke-width="0.12" transform="rotate(-90 355.9 57.5)">(% of the control)</text>
<rect x="388.70" y="25.40" width="8.00" height="74.80" fill="#fff" stroke="#444" stroke-width="0.8"/>
<line x1="409.05" y1="67.11" x2="409.05" y2="64.86" stroke="#aaa" stroke-width="0.8"/>
<line x1="407.85" y1="64.86" x2="410.25" y2="64.86" stroke="#aaa" stroke-width="0.8"/>
<rect x="405.05" y="67.51" width="8.00" height="32.69" fill="#b4b4b4" stroke="#444" stroke-width="0.8"/>
<line x1="425.40" y1="24.25" x2="425.40" y2="20.86" stroke="#aaa" stroke-width="0.8"/>
<line x1="424.20" y1="20.86" x2="426.60" y2="20.86" stroke="#aaa" stroke-width="0.8"/>
<rect x="421.40" y="24.65" width="8.00" height="75.55" fill="#b4b4b4" stroke="#444" stroke-width="0.8"/>
<line x1="458.10" y1="38.31" x2="458.10" y2="34.55" stroke="#aaa" stroke-width="0.8"/>
<line x1="456.90" y1="34.55" x2="459.30" y2="34.55" stroke="#aaa" stroke-width="0.8"/>
<rect x="454.10" y="38.71" width="8.00" height="61.49" fill="#b4b4b4" stroke="#444" stroke-width="0.8"/>
<line x1="474.45" y1="39.29" x2="474.45" y2="35.53" stroke="#aaa" stroke-width="0.8"/>
<line x1="473.25" y1="35.53" x2="475.65" y2="35.53" stroke="#aaa" stroke-width="0.8"/>
<rect x="470.45" y="39.69" width="8.00" height="60.51" fill="#b4b4b4" stroke="#444" stroke-width="0.8"/>
<text x="396.4" y="108.6" font-family='"Liberation Serif", serif' font-size="6.95" font-weight="bold" text-anchor="end" fill="#222" stroke="#222" stroke-width="0.3" transform="rotate(-45 396.4 108.6)">CONTROL</text>
<text x="407.2" y="118.0" font-family='"Liberation Serif", serif' font-size="7.0" font-weight="bold" text-anchor="end" fill="#222" stroke="#222" stroke-width="0.3" transform="rotate(-45 407.2 118.0)">PD</text>
<text x="422.4" y="118.3" font-family='"Liberation Serif", serif' font-size="7.0" font-weight="bold" text-anchor="end" fill="#222" stroke="#222" stroke-width="0.3" transform="rotate(-45 422.4 118.3)">LY</text>
<text x="453.8" y="113.0" font-family='"Liberation Serif", serif' font-size="6.65" font-weight="bold" text-anchor="end" fill="#222" stroke="#222" stroke-width="0.3" transform="rotate(-45 453.8 113.0)">siRNA Akt</text>
<text x="482.0" y="112.6" font-family='"Liberation Serif", serif' font-size="6.65" font-weight="bold" text-anchor="end" fill="#222" stroke="#222" stroke-width="0.3" transform="rotate(-45 482.0 112.6)">siRNA scramble</text>
<line x1="360.50" y1="188.50" x2="360.50" y2="288.80" stroke="#333" stroke-width="1"/>
<line x1="360.00" y1="288.30" x2="512.50" y2="288.30" stroke="#444" stroke-width="0.9"/>
<line x1="357.50" y1="288.30" x2="360.50" y2="288.30" stroke="#333" stroke-width="0.9"/>
<text x="356.7" y="291.40000000000003" font-family='"Liberation Serif", serif' font-size="9.3" font-weight="bold" text-anchor="end" fill="#111" stroke="#111" stroke-width="0.3">0</text>
<line x1="357.50" y1="277.74" x2="360.50" y2="277.74" stroke="#333" stroke-width="0.9"/>
<text x="356.7" y="280.84000000000003" font-family='"Liberation Serif", serif' font-size="9.3" font-weight="bold" text-anchor="end" fill="#111" stroke="#111" stroke-width="0.3">1</text>
<line x1="357.50" y1="267.18" x2="360.50" y2="267.18" stroke="#333" stroke-width="0.9"/>
<text x="356.7" y="270.28000000000003" font-family='"Liberation Serif", serif' font-size="9.3" font-weight="bold" text-anchor="end" fill="#111" stroke="#111" stroke-width="0.3">2</text>
<line x1="357.50" y1="256.62" x2="360.50" y2="256.62" stroke="#333" stroke-width="0.9"/>
<text x="356.7" y="259.72" font-family='"Liberation Serif", serif' font-size="9.3" font-weight="bold" text-anchor="end" fill="#111" stroke="#111" stroke-width="0.3">3</text>
<line x1="357.50" y1="246.06" x2="360.50" y2="246.06" stroke="#333" stroke-width="0.9"/>
<text x="356.7" y="249.16" font-family='"Liberation Serif", serif' font-size="9.3" font-weight="bold" text-anchor="end" fill="#111" stroke="#111" stroke-width="0.3">4</text>
<line x1="357.50" y1="235.50" x2="360.50" y2="235.50" stroke="#333" stroke-width="0.9"/>
<text x="356.7" y="238.6" font-family='"Liberation Serif", serif' font-size="9.3" font-weight="bold" text-anchor="end" fill="#111" stroke="#111" stroke-width="0.3">5</text>
<line x1="357.50" y1="224.94" x2="360.50" y2="224.94" stroke="#333" stroke-width="0.9"/>
<text x="356.7" y="228.04" font-family='"Liberation Serif", serif' font-size="9.3" font-weight="bold" text-anchor="end" fill="#111" stroke="#111" stroke-width="0.3">6</text>
<line x1="357.50" y1="214.38" x2="360.50" y2="214.38" stroke="#333" stroke-width="0.9"/>
<text x="356.7" y="217.48" font-family='"Liberation Serif", serif' font-size="9.3" font-weight="bold" text-anchor="end" fill="#111" stroke="#111" stroke-width="0.3">7</text>
<line x1="357.50" y1="203.82" x2="360.50" y2="203.82" stroke="#333" stroke-width="0.9"/>
<text x="356.7" y="206.92" font-family='"Liberation Serif", serif' font-size="9.3" font-weight="bold" text-anchor="end" fill="#111" stroke="#111" stroke-width="0.3">8</text>
<line x1="357.50" y1="193.26" x2="360.50" y2="193.26" stroke="#333" stroke-width="0.9"/>
<text x="356.7" y="196.35999999999999" font-family='"Liberation Serif", serif' font-size="9.3" font-weight="bold" text-anchor="end" fill="#111" stroke="#111" stroke-width="0.3">9</text>
<text x="330.6" y="239.0" font-family='"Liberation Serif", serif' font-size="8.9" font-weight="normal" text-anchor="middle" fill="#222" stroke="#222" stroke-width="0.12" transform="rotate(-90 330.6 239.0)">Number of</text>
<text x="341.2" y="239.5" font-family='"Liberation Serif", serif' font-size="8.6" font-weight="normal" text-anchor="middle" fill="#222" stroke="#222" stroke-width="0.12" transform="rotate(-90 341.2 239.5)">migrating cells x 10<tspan font-size="5.2" dy="-3">7</tspan><tspan dy="3">/ml</tspan></text>
<line x1="380.66" y1="267.18" x2="380.66" y2="262.96" stroke="#bbb" stroke-width="0.8"/>
<line x1="379.36" y1="262.96" x2="381.96" y2="262.96" stroke="#bbb" stroke-width="0.8"/>
<rect x="376.70" y="267.58" width="7.92" height="20.72" fill="#fff" stroke="#777" stroke-width="0.8"/>
<line x1="389.38" y1="237.61" x2="389.38" y2="230.22" stroke="#bbb" stroke-width="0.8"/>
<line x1="388.08" y1="230.22" x2="390.68" y2="230.22" stroke="#bbb" stroke-width="0.8"/>
<rect x="385.32" y="237.91" width="8.12" height="50.39" fill="#5e5e5e" stroke="#484848" stroke-width="0.6"/>
<line x1="398.10" y1="257.68" x2="398.10" y2="250.28" stroke="#bbb" stroke-width="0.8"/>
<line x1="396.80" y1="250.28" x2="399.40" y2="250.28" stroke="#bbb" stroke-width="0.8"/>
<rect x="394.04" y="257.98" width="8.12" height="30.32" fill="#c2c2c2" stroke="#888" stroke-width="0.6"/>
<line x1="381.30" y1="226.00" x2="398.00" y2="226.00" stroke="#222" stroke-width="1.2"/>
<line x1="381.70" y1="226.00" x2="381.70" y2="228.20" stroke="#222" stroke-width="0.9"/>
<line x1="389.65" y1="226.00" x2="389.65" y2="228.20" stroke="#222" stroke-width="0.9"/>
<line x1="397.60" y1="226.00" x2="397.60" y2="228.20" stroke="#222" stroke-width="0.9"/>
<line x1="384.30" y1="217.60" x2="384.30" y2="222.00" stroke="#333" stroke-width="1.0"/>
<line x1="382.39" y1="218.70" x2="386.21" y2="220.90" stroke="#333" stroke-width="1.0"/>
<line x1="386.21" y1="218.70" x2="382.39" y2="220.90" stroke="#333" stroke-width="1.0"/>
<line x1="393.50" y1="217.60" x2="393.50" y2="222.00" stroke="#333" stroke-width="1.0"/>
<line x1="391.59" y1="218.70" x2="395.41" y2="220.90" stroke="#333" stroke-width="1.0"/>
<line x1="395.41" y1="218.70" x2="391.59" y2="220.90" stroke="#333" stroke-width="1.0"/>
<text x="388.4" y="170.2" font-family='"Liberation Serif", serif' font-size="7.4" font-weight="bold" text-anchor="middle" fill="#222" stroke="#222" stroke-width="0.3">K562</text>
<line x1="373.80" y1="176.40" x2="401.30" y2="176.40" stroke="#111" stroke-width="1.6"/>
<text x="376.90000000000003" y="296.4" font-family='"Liberation Serif", serif' font-size="6.0" font-weight="bold" text-anchor="end" fill="#222" stroke="#222" stroke-width="0.3" transform="rotate(-45 376.90000000000003 296.4)" textLength="12.8">BSA</text>
<text x="384.90000000000003" y="296.9" font-family='"Liberation Serif", serif' font-size="6.0" font-weight="bold" text-anchor="end" fill="#222" stroke="#222" stroke-width="0.3" transform="rotate(-45 384.90000000000003 296.9)" textLength="30.9">VEGF+FN</text>
<text x="394.40000000000003" y="296.4" font-family='"Liberation Serif", serif' font-size="6.0" font-weight="bold" text-anchor="end" fill="#222" stroke="#222" stroke-width="0.3" transform="rotate(-45 394.40000000000003 296.4)" textLength="30.9">VEGF+FN</text>
<text x="395.8" y="306.5" font-family='"Liberation Serif", serif' font-size="6.0" font-weight="bold" text-anchor="end" fill="#222" stroke="#222" stroke-width="0.3" transform="rotate(-45 395.8 306.5)" textLength="16.3">+Way</text>
<line x1="414.36" y1="240.25" x2="414.36" y2="231.28" stroke="#bbb" stroke-width="0.8"/>
<line x1="413.06" y1="231.28" x2="415.66" y2="231.28" stroke="#bbb" stroke-width="0.8"/>
<rect x="410.40" y="240.65" width="7.92" height="47.65" fill="#fff" stroke="#777" stroke-width="0.8"/>
<line x1="423.08" y1="197.70" x2="423.08" y2="196.11" stroke="#bbb" stroke-width="0.8"/>
<line x1="421.78" y1="196.11" x2="424.38" y2="196.11" stroke="#bbb" stroke-width="0.8"/>
<rect x="419.02" y="198.00" width="8.12" height="90.30" fill="#5e5e5e" stroke="#484848" stroke-width="0.6"/>
<line x1="431.80" y1="224.20" x2="431.80" y2="223.67" stroke="#bbb" stroke-width="0.8"/>
<line x1="430.50" y1="223.67" x2="433.10" y2="223.67" stroke="#bbb" stroke-width="0.8"/>
<rect x="427.74" y="224.50" width="8.12" height="63.80" fill="#c2c2c2" stroke="#888" stroke-width="0.6"/>
<line x1="415.00" y1="191.20" x2="431.70" y2="191.20" stroke="#222" stroke-width="1.2"/>
<line x1="415.40" y1="191.20" x2="415.40" y2="193.40" stroke="#222" stroke-width="0.9"/>
<line x1="423.35" y1="191.20" x2="423.35" y2="193.40" stroke="#222" stroke-width="0.9"/>
<line x1="431.30" y1="191.20" x2="431.30" y2="193.40" stroke="#222" stroke-width="0.9"/>
<line x1="418.00" y1="185.40" x2="418.00" y2="189.80" stroke="#333" stroke-width="1.0"/>
<line x1="416.09" y1="186.50" x2="419.91" y2="188.70" stroke="#333" stroke-width="1.0"/>
<line x1="419.91" y1="186.50" x2="416.09" y2="188.70" stroke="#333" stroke-width="1.0"/>
<line x1="427.20" y1="185.40" x2="427.20" y2="189.80" stroke="#333" stroke-width="1.0"/>
<line x1="425.29" y1="186.50" x2="429.11" y2="188.70" stroke="#333" stroke-width="1.0"/>
<line x1="429.11" y1="186.50" x2="425.29" y2="188.70" stroke="#333" stroke-width="1.0"/>
<text x="426.5" y="170.2" font-family='"Liberation Serif", serif' font-size="7.4" font-weight="bold" text-anchor="middle" fill="#222" stroke="#222" stroke-width="0.3">NB4</text>
<line x1="410.80" y1="176.40" x2="438.00" y2="176.40" stroke="#111" stroke-width="1.6"/>
<text x="411.5" y="296.4" font-family='"Liberation Serif", serif' font-size="6.0" font-weight="bold" text-anchor="end" fill="#222" stroke="#222" stroke-width="0.3" transform="rotate(-45 411.5 296.4)" textLength="12.8">BSA</text>
<text x="419.5" y="296.9" font-family='"Liberation Serif", serif' font-size="6.0" font-weight="bold" text-anchor="end" fill="#222" stroke="#222" stroke-width="0.3" transform="rotate(-45 419.5 296.9)" textLength="30.9">VEGF+FN</text>
<text x="429.0" y="296.4" font-family='"Liberation Serif", serif' font-size="6.0" font-weight="bold" text-anchor="end" fill="#222" stroke="#222" stroke-width="0.3" transform="rotate(-45 429.0 296.4)" textLength="30.9">VEGF+FN</text>
<text x="430.4" y="306.5" font-family='"Liberation Serif", serif' font-size="6.0" font-weight="bold" text-anchor="end" fill="#222" stroke="#222" stroke-width="0.3" transform="rotate(-45 430.4 306.5)" textLength="16.3">+Way</text>
<line x1="447.76" y1="259.26" x2="447.76" y2="258.20" stroke="#bbb" stroke-width="0.8"/>
<line x1="446.46" y1="258.20" x2="449.06" y2="258.20" stroke="#bbb" stroke-width="0.8"/>
<rect x="443.80" y="259.66" width="7.92" height="28.64" fill="#fff" stroke="#777" stroke-width="0.8"/>
<line x1="456.48" y1="202.98" x2="456.48" y2="201.71" stroke="#bbb" stroke-width="0.8"/>
<line x1="455.18" y1="201.71" x2="457.78" y2="201.71" stroke="#bbb" stroke-width="0.8"/>
<rect x="452.42" y="203.28" width="8.12" height="85.02" fill="#5e5e5e" stroke="#484848" stroke-width="0.6"/>
<line x1="465.20" y1="211.21" x2="465.20" y2="210.16" stroke="#bbb" stroke-width="0.8"/>
<line x1="463.90" y1="210.16" x2="466.50" y2="210.16" stroke="#bbb" stroke-width="0.8"/>
<rect x="461.14" y="211.51" width="8.12" height="76.79" fill="#c2c2c2" stroke="#888" stroke-width="0.6"/>
<line x1="448.40" y1="195.50" x2="465.10" y2="195.50" stroke="#222" stroke-width="1.2"/>
<line x1="448.80" y1="195.50" x2="448.80" y2="197.70" stroke="#222" stroke-width="0.9"/>
<line x1="456.75" y1="195.50" x2="456.75" y2="197.70" stroke="#222" stroke-width="0.9"/>
<line x1="464.70" y1="195.50" x2="464.70" y2="197.70" stroke="#222" stroke-width="0.9"/>
<line x1="451.40" y1="190.00" x2="451.40" y2="194.40" stroke="#333" stroke-width="1.0"/>
<line x1="449.49" y1="191.10" x2="453.31" y2="193.30" stroke="#333" stroke-width="1.0"/>
<line x1="453.31" y1="191.10" x2="449.49" y2="193.30" stroke="#333" stroke-width="1.0"/>
<line x1="460.60" y1="190.00" x2="460.60" y2="194.40" stroke="#333" stroke-width="1.0"/>
<line x1="458.69" y1="191.10" x2="462.51" y2="193.30" stroke="#333" stroke-width="1.0"/>
<line x1="462.51" y1="191.10" x2="458.69" y2="193.30" stroke="#333" stroke-width="1.0"/>
<text x="460.2" y="170.2" font-family='"Liberation Serif", serif' font-size="7.4" font-weight="bold" text-anchor="middle" fill="#222" stroke="#222" stroke-width="0.3">KG1</text>
<line x1="445.00" y1="176.40" x2="472.50" y2="176.40" stroke="#111" stroke-width="1.6"/>
<text x="447.0" y="296.4" font-family='"Liberation Serif", serif' font-size="6.0" font-weight="bold" text-anchor="end" fill="#222" stroke="#222" stroke-width="0.3" transform="rotate(-45 447.0 296.4)" textLength="12.8">BSA</text>
<text x="455.0" y="296.9" font-family='"Liberation Serif", serif' font-size="6.0" font-weight="bold" text-anchor="end" fill="#222" stroke="#222" stroke-width="0.3" transform="rotate(-45 455.0 296.9)" textLength="30.9">VEGF+FN</text>
<text x="464.5" y="296.4" font-family='"Liberation Serif", serif' font-size="6.0" font-weight="bold" text-anchor="end" fill="#222" stroke="#222" stroke-width="0.3" transform="rotate(-45 464.5 296.4)" textLength="30.9">VEGF+FN</text>
<text x="465.9" y="306.5" font-family='"Liberation Serif", serif' font-size="6.0" font-weight="bold" text-anchor="end" fill="#222" stroke="#222" stroke-width="0.3" transform="rotate(-45 465.9 306.5)" textLength="16.3">+Way</text>
<line x1="481.66" y1="277.32" x2="481.66" y2="275.21" stroke="#bbb" stroke-width="0.8"/>
<line x1="480.36" y1="275.21" x2="482.96" y2="275.21" stroke="#bbb" stroke-width="0.8"/>
<rect x="477.70" y="277.72" width="7.92" height="10.58" fill="#fff" stroke="#777" stroke-width="0.8"/>
<line x1="490.38" y1="267.18" x2="490.38" y2="265.91" stroke="#bbb" stroke-width="0.8"/>
<line x1="489.08" y1="265.91" x2="491.68" y2="265.91" stroke="#bbb" stroke-width="0.8"/>
<rect x="486.32" y="267.48" width="8.12" height="20.82" fill="#5e5e5e" stroke="#484848" stroke-width="0.6"/>
<line x1="499.10" y1="270.98" x2="499.10" y2="270.35" stroke="#bbb" stroke-width="0.8"/>
<line x1="497.80" y1="270.35" x2="500.40" y2="270.35" stroke="#bbb" stroke-width="0.8"/>
<rect x="495.04" y="271.28" width="8.12" height="17.02" fill="#c2c2c2" stroke="#888" stroke-width="0.6"/>
<line x1="482.30" y1="262.00" x2="499.00" y2="262.00" stroke="#222" stroke-width="1.2"/>
<line x1="482.70" y1="262.00" x2="482.70" y2="264.20" stroke="#222" stroke-width="0.9"/>
<line x1="490.65" y1="262.00" x2="490.65" y2="264.20" stroke="#222" stroke-width="0.9"/>
<line x1="498.60" y1="262.00" x2="498.60" y2="264.20" stroke="#222" stroke-width="0.9"/>
<line x1="485.30" y1="254.80" x2="485.30" y2="259.20" stroke="#333" stroke-width="1.0"/>
<line x1="483.39" y1="255.90" x2="487.21" y2="258.10" stroke="#333" stroke-width="1.0"/>
<line x1="487.21" y1="255.90" x2="483.39" y2="258.10" stroke="#333" stroke-width="1.0"/>
<line x1="494.50" y1="254.80" x2="494.50" y2="259.20" stroke="#333" stroke-width="1.0"/>
<line x1="492.59" y1="255.90" x2="496.41" y2="258.10" stroke="#333" stroke-width="1.0"/>
<line x1="496.41" y1="255.90" x2="492.59" y2="258.10" stroke="#333" stroke-width="1.0"/>
<text x="492.5" y="170.2" font-family='"Liberation Serif", serif' font-size="7.4" font-weight="bold" text-anchor="middle" fill="#222" stroke="#222" stroke-width="0.3">TF1</text>
<line x1="479.50" y1="176.40" x2="507.00" y2="176.40" stroke="#111" stroke-width="1.6"/>
<text x="485.90000000000003" y="296.4" font-family='"Liberation Serif", serif' font-size="6.0" font-weight="bold" text-anchor="end" fill="#222" stroke="#222" stroke-width="0.3" transform="rotate(-45 485.90000000000003 296.4)" textLength="12.8">BSA</text>
<text x="493.90000000000003" y="296.9" font-family='"Liberation Serif", serif' font-size="6.0" font-weight="bold" text-anchor="end" fill="#222" stroke="#222" stroke-width="0.3" transform="rotate(-45 493.90000000000003 296.9)" textLength="30.9">VEGF+FN</text>
<text x="503.40000000000003" y="296.4" font-family='"Liberation Serif", serif' font-size="6.0" font-weight="bold" text-anchor="end" fill="#222" stroke="#222" stroke-width="0.3" transform="rotate(-45 503.40000000000003 296.4)" textLength="30.9">VEGF+FN</text>
<text x="504.8" y="306.5" font-family='"Liberation Serif", serif' font-size="6.0" font-weight="bold" text-anchor="end" fill="#222" stroke="#222" stroke-width="0.3" transform="rotate(-45 504.8 306.5)" textLength="16.3">+Way</text>
</svg>
</body></html>
